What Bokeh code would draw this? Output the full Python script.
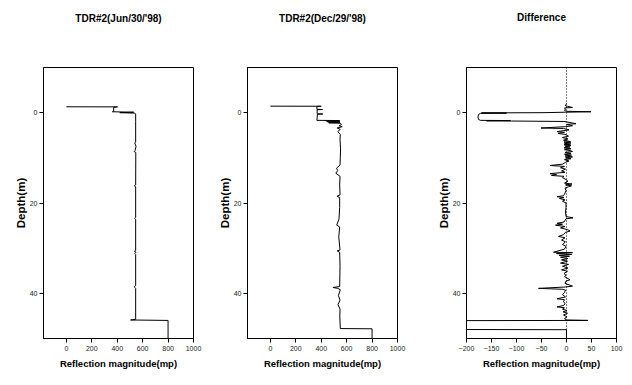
from bokeh.plotting import figure
from bokeh.layouts import row
from bokeh.models import Range1d, FixedTicker, Span, Title
from bokeh.embed import file_html
from bokeh.resources import INLINE

# TDR#2 reflection profile, 30 June 1998
jun_depth = [-1.30, -1.28, -1.18, -0.30, -0.20, -0.10, 0.00, 0.10, 0.30, 2.0, 6.5, 6.7, 7.5,
             8.4, 8.6, 8.8, 16.0, 16.2, 16.4, 23.2, 23.4, 23.6, 30.5, 30.7, 30.9, 31.2,
             31.4, 38.3, 38.5, 38.7, 38.9, 45.8, 45.9, 46.0, 50.0]
jun_refl = [0, 402, 372, 372, 362, 530, 420, 538, 545, 545, 545, 538, 548,
            540, 533, 546, 545, 535, 545, 545, 537, 545, 545, 535, 548, 538,
            545, 545, 535, 538, 545, 545, 505, 800, 800]

# TDR#2 reflection profile, 29 December 1998
dec_depth = [-1.44, -1.42, -1.38, -0.75, -0.70, -0.65, 0.25, 0.30, 0.35, 1.70, 1.75, 1.85,
             1.95, 2.05, 2.15, 2.25, 2.35, 2.6, 2.9, 3.1, 3.4, 3.7, 4.2, 4.8, 6.0, 8.0,
             10.0, 11.6, 12.3, 12.8, 13.4, 14.1, 16.0, 18.2, 18.5, 18.8, 21.0, 23.5,
             24.9, 25.3, 27.5, 30.4, 30.6, 30.9, 34.0, 38.5, 38.7, 38.9, 39.2, 40.5,
             41.5, 42.5, 43.5, 45.0, 47.8, 47.85, 50.0]
dec_refl = [0, 400, 366, 366, 410, 368, 368, 412, 370, 366, 545, 440,
            545, 450, 548, 460, 550, 560, 540, 565, 525, 550, 530, 550, 548, 552,
            550, 548, 520, 530, 515, 548, 545, 548, 524, 545, 545, 540,
            522, 545, 538, 548, 526, 545, 548, 545, 492, 530, 550, 535,
            548, 532, 548, 546, 550, 800, 800]

# Difference between the two profiles
diff_depth = [-1.9, -1.6, -1.4, -1.15, -1.05, -0.8, -0.5, -0.3, -0.2, -0.1, 0.0, 0.05, 0.1,
              0.15, 0.4, 1.0, 1.5, 1.7, 1.75, 1.8, 1.85, 1.95, 2.1, 2.45, 2.6, 2.9, 3.1,
              3.4, 3.5, 3.8, 4.2, 4.35, 4.6, 4.8, 5.2, 5.5, 5.8, 6.1, 6.4, 6.5, 6.7, 6.8,
              7.0, 7.1, 7.3, 7.4, 7.6, 7.8, 8.0, 8.2, 8.4, 8.6, 8.8, 9.0, 9.2, 9.4, 9.6,
              9.8, 10.0, 10.2, 10.4, 10.7, 11.0, 11.4, 11.7, 11.9, 12.2, 12.5, 12.9, 13.2,
              13.5, 13.7, 13.9, 14.1, 14.4, 14.8, 15.2, 15.6, 15.8, 16.0, 16.2, 16.4,
              16.7, 17.2, 17.8, 18.4, 18.6, 18.8, 19.0, 19.3, 19.6, 20.0, 21.0, 22.0,
              23.0, 23.3, 23.5, 24.2, 24.5, 24.7, 24.9, 25.2, 25.5, 25.9, 26.2, 26.5,
              27.0, 27.4, 27.7, 28.2, 28.6, 29.2, 29.6, 30.2, 30.9, 31.0, 31.2, 31.4,
              31.6, 31.8, 32.0, 32.3, 32.6, 32.9, 33.3, 33.6, 34.0, 34.4, 34.8, 35.1,
              35.6, 36.0, 36.3, 37.0, 37.3, 37.8, 38.4, 38.6, 38.9, 39.1, 39.3, 39.8,
              40.3, 40.8, 41.2, 41.4, 41.8, 42.3, 42.7, 43.0, 43.2, 43.5, 43.8, 44.1,
              44.4, 44.8, 45.2, 45.6, 45.9, 46.0, 46.05, 48.0, 48.05, 50.0]
diff_refl = [0, -3, 2, 12, -4, -2, -4, 0, 49, -2, -45, -170, -120,
             -172, -176, -177, -176, -172, -112, -160, -110, -5, 3, 19, 0, 12, -2,
             -51, -6, 5, -19, -4, -17, -3, 4, -8, 3, -6, 8, -5, 9, -4,
             8, -5, 9, -3, 7, -5, 9, -4, 8, 12, -3, 9, -4, 10, -3,
             12, -2, 9, -4, 5, -2, -8, -33, -4, -12, -2, -10, -3,
             -33, -20, -30, -5, -8, -1, 3, -4, 11, -2, 10, 4,
             -3, -1, -3, -6, -19, -5, -14, -3, -8, -1, -1, -2,
             -1, 13, -1, -5, -19, -8, -22, -3, -12, 2, 7, -2,
             -6, -16, -3, -10, -2, -8, -1, -4, -26, 12, -20, 10,
             -15, 6, -12, 3, -10, 2, -12, 4, -8, 3, -10, 2,
             -5, -1, -4, 7, -1, -3, 12, -2, -56, -8, -2, -4,
             -8, -2, -19, -4, -6, -3, -6, -19, -4, -8, 1, -7,
             2, -6, 1, -4, 0, 43, -255, -255, 0, 0]

depth_ticks = [0, 20, 40]
refl_ticks = [0, 200, 400, 600, 800, 1000]
diff_ticks = [-200, -150, -100, -50, 0, 50, 100]

FONT = "Liberation Sans"


def panel(title, title_offset, gap, width, x_start, x_end, x_ticks, b_left, b_right, b_top, b_bottom):
    p = figure(width=width, height=385, title=None,
               x_range=Range1d(x_start, x_end), y_range=Range1d(50, -10),
               output_backend="svg", toolbar_location=None,
               min_border_left=b_left, min_border_right=b_right,
               min_border_top=b_top, min_border_bottom=b_bottom)
    # empty band between heading and frame, then the heading itself
    p.add_layout(Title(text=" ", text_font_size=f"{gap}px", standoff=0), "above")
    p.add_layout(Title(text=title, align="center", offset=title_offset,
                       text_font=FONT, text_font_size="10px", text_font_style="bold",
                       text_color="black"), "above")
    p.grid.visible = False
    p.outline_line_color = "black"
    p.outline_line_width = 1
    p.outline_line_alpha = 1
    p.background_fill_color = "white"
    p.border_fill_color = "white"

    p.xaxis.ticker = FixedTicker(ticks=x_ticks)
    p.yaxis.ticker = FixedTicker(ticks=depth_ticks)
    p.xaxis.axis_label = "Reflection magnitude(mp)"
    p.yaxis.axis_label = "Depth(m)"
    for ax in (p.xaxis[0], p.yaxis[0]):
        ax.axis_line_color = "black"
        ax.major_tick_line_color = "black"
        ax.major_tick_in = 0
        ax.major_tick_out = 4
        ax.minor_tick_line_color = None
        ax.major_label_text_font = FONT
        ax.major_label_text_font_size = "7px"
        ax.major_label_text_color = "#222222"
        ax.axis_label_text_font = FONT
        ax.axis_label_text_font_style = "bold"
        ax.axis_label_text_color = "black"
    p.xaxis.major_label_standoff = 3
    p.yaxis.major_label_standoff = 2
    p.xaxis.axis_label_text_font_size = "9.5px"
    p.yaxis.axis_label_text_font_size = "11.5px"
    p.xaxis.axis_label_standoff = 4
    p.yaxis.axis_label_standoff = 0
    return p


p1 = panel("TDR#2(Jun/30/'98)", 0, 33, 210, -180, 1000, refl_ticks, 43, 17, 60, 47)
p1.line(jun_refl, jun_depth, line_color="black", line_width=1)

p2 = panel("TDR#2(Dec/29/'98)", -6, 33, 210, -180, 1000, refl_ticks, 37, 23, 60, 47)
p2.line(dec_refl, dec_depth, line_color="black", line_width=1)

p3 = panel("Difference", 0, 34, 212, -200, 100, diff_ticks, 46, 16, 67, 42)
p3.add_layout(Span(location=0, dimension="height", line_color="black",
                   line_dash="1 2", line_width=1))
p3.line(diff_refl, diff_depth, line_color="black", line_width=1)

layout = row(p1, p2, p3)
open("out.html", "w").write(file_html(layout, INLINE))
